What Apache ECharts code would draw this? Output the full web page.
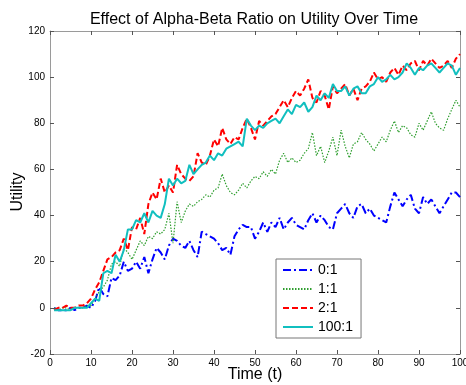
<!DOCTYPE html>
<html><head><meta charset="utf-8">
<script src="https://cdn.jsdelivr.net/npm/echarts@6/dist/echarts.min.js"></script>
<style>html,body{margin:0;padding:0;background:#fff}#c{width:466px;height:385px}</style>
</head><body><div id="c"></div>
<script>
const xTicks = [0,10,20,30,40,50,60,70,80,90,100];
const yTicks = [-20,0,20,40,60,80,100,120];
const seriesNames = ['0:1','1:1','2:1','100:1'];
const xTitle = 'Time (t)';
const yTitle = 'Utility';
const s01 = [0,-1,-1,-1,0,-1,0,0,1,0,
 3,9,6,5,13,12,14,20,16,17,
 20,17,22,15,21,26,24,21,27,30,
 29,27,26,29,25,22,33,32,31,30,
 28,25,26,23,31,34,36,35,35,30,
 33,37,33,37,35,39,34,37,39,36,
 35,34,38,41,37,40,38,35,34,41,
 43,45,41,39,44,45,41,43,40,39,
 38,37,44,50,47,44,47,49,43,41,
 48,45,47,44,41,44,47,50,50,48];
const s11 = [0,-1,0,0,-1,0,0,0,1,1,
 4,7,9,12,19,20,18,26,24,21,
 25,29,27,31,30,33,32,34,41,28,
 46,37,42,45,44,46,47,49,48,51,
 52,58,53,50,49,51,54,52,55,57,
 56,59,57,60,58,64,67,63,65,63,
 64,67,69,76,66,70,63,68,74,66,
 77,70,65,71,72,76,73,71,68,71,
 74,72,77,81,76,79,78,75,74,80,
 77,81,85,80,78,77,82,86,90,87];
const s21 = [-1,0,0,1,0,0,1,1,2,4,
 8,11,16,21,22,24,25,30,25,35,
 34,39,32,45,50,47,56,50,53,50,
 62,58,56,55,57,67,63,62,66,73,
 70,78,73,71,74,73,78,82,78,73,
 81,79,81,83,84,87,90,87,91,94,
 92,95,99,91,89,94,92,86,96,93,
 95,97,92,95,90,95,96,98,102,99,
 100,98,102,104,101,105,103,106,107,103,
 107,105,108,106,104,105,107,104,108,110];
const s1001 = [-1,-1,-1,-1,-1,0,0,0,0,2,
 4,3,15,16,15,23,20,25,34,34,
 38,37,41,37,42,40,39,45,56,53,
 56,54,55,62,58,60,62,63,66,64,
 67,66,69,70,71,72,70,82,79,77,
 79,78,80,81,82,80,83,86,84,88,
 87,89,85,87,92,90,93,91,97,94,
 94,96,92,95,96,93,93,96,97,100,
 98,99,101,99,100,102,106,104,101,104,
 103,105,106,104,102,104,106,105,101,104];

const toXY = arr => arr.map((v,i)=>[i+1,v]);
const font = 'Liberation Sans, Arial, sans-serif';
const chart = echarts.init(document.getElementById('c'));
const axisCommon = {
  axisLine:{show:true,onZero:false,lineStyle:{color:'#9a9a9a',width:1}},
  axisTick:{show:true,inside:true,length:4,lineStyle:{color:'#555'}},
  splitLine:{show:false}
};
chart.setOption({
  animation:false,
  backgroundColor:'#fff',
  title:{text:'Effect of Alpha-Beta Ratio on Utility Over Time',left:249,top:7,textAlign:'center',
    textStyle:{fontFamily:font,fontSize:16,fontWeight:'normal',color:'#000'}},
  grid:{left:50,right:6,top:31,bottom:31,containLabel:false,outerBoundsMode:'none'},
  legend:{orient:'vertical',left:276,top:259,
    data:seriesNames,itemWidth:30,itemHeight:12,itemGap:5,
    padding:[4,8,4,6],
    itemStyle:{color:'transparent',borderWidth:0,opacity:0},
    borderColor:'#777',borderWidth:1,backgroundColor:'#fff',
    textStyle:{fontFamily:font,fontSize:14,color:'#000'}},
  graphic:[
    {type:'text',x:255,y:375,style:{text:xTitle,font:'16px '+font,fill:'#000',
      textAlign:'center',textVerticalAlign:'middle',align:'center',verticalAlign:'middle'}},
    {type:'text',x:18,y:192,rotation:Math.PI/2,style:{text:yTitle,font:'16px '+font,fill:'#000',
      textAlign:'center',textVerticalAlign:'middle',align:'center',verticalAlign:'middle'}}
  ],
  xAxis:[
    Object.assign({type:'value',min:0,max:100,interval:10,position:'bottom',
      axisLabel:{fontFamily:font,fontSize:10,color:'#000',margin:4}},axisCommon),
    Object.assign({type:'value',min:0,max:100,interval:10,position:'top',
      axisLabel:{show:false}},axisCommon)
  ],
  yAxis:[
    Object.assign({type:'value',min:-20,max:120,interval:20,position:'left',
      axisLabel:{fontFamily:font,fontSize:10,color:'#000',margin:5}},axisCommon),
    Object.assign({type:'value',min:-20,max:120,interval:20,position:'right',
      axisLabel:{show:false}},axisCommon)
  ],
  series:[
    {name:seriesNames[0],type:'line',data:toXY(s01),symbol:'none',color:'#0000ff',
      lineStyle:{color:'#0000ff',width:2,type:[8,3,2,3]}},
    {name:seriesNames[1],type:'line',data:toXY(s11),symbol:'none',color:'#2e9e2e',
      lineStyle:{color:'#2e9e2e',width:1.2,type:[1.5,1.5]}},
    {name:seriesNames[2],type:'line',data:toXY(s21),symbol:'none',color:'#ff0000',
      lineStyle:{color:'#ff0000',width:2,type:[6,3]}},
    {name:seriesNames[3],type:'line',data:toXY(s1001),symbol:'none',color:'#11bfbf',
      lineStyle:{color:'#11bfbf',width:2,type:'solid'}}
  ]
});
</script></body></html>
